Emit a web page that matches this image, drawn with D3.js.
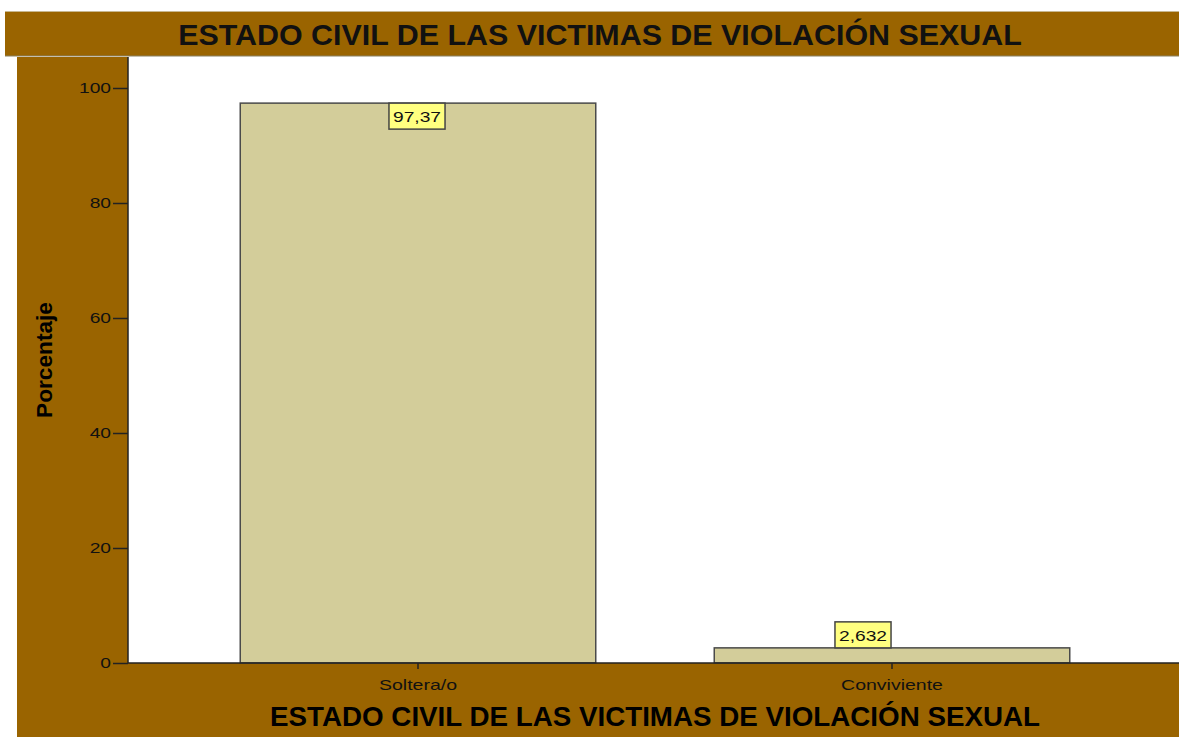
<!DOCTYPE html>
<html><head><meta charset="utf-8">
<script src="https://cdn.jsdelivr.net/npm/d3@7"></script>
<style>body{margin:0;background:#fff}svg{display:block}</style>
</head><body>
<svg id="c" width="1179" height="737"></svg>
<script>
const categories = ["Soltera/o", "Conviviente"];
const values = [97.37, 2.632];
const valueLabels = ["97,37", "2,632"];
const yTicks = [0, 20, 40, 60, 80, 100];
const title = "ESTADO CIVIL DE LAS VICTIMAS DE VIOLACIÓN SEXUAL";
const xTitle = "ESTADO CIVIL DE LAS VICTIMAS DE VIOLACIÓN SEXUAL";
const yTitle = "Porcentaje";

const brown = "#9a6400";
const svg = d3.select("#c");
const W = 1179, H = 737;
const plot = {left: 128, top: 57, right: 1179, bottom: 663};
const FONT = "'Liberation Sans', Arial, sans-serif";

function stretch(sel, k) {
  sel.each(function() {
    const w = this.getComputedTextLength();
    d3.select(this).attr("textLength", w * k).attr("lengthAdjust", "spacingAndGlyphs");
  });
}

// backgrounds
svg.append("rect").attr("x", 5).attr("y", 11).attr("width", W - 5).attr("height", 45).attr("fill", brown);
svg.append("line").attr("x1", 5).attr("x2", W).attr("y1", 56).attr("y2", 56).attr("stroke", "#8a8060").attr("stroke-width", 1);
svg.append("line").attr("x1", 5).attr("x2", W).attr("y1", 11.5).attr("y2", 11.5).attr("stroke", "#c8b890").attr("stroke-width", 1);
svg.append("rect").attr("x", 17).attr("y", 57).attr("width", W - 17).attr("height", H - 57).attr("fill", brown);
svg.append("rect").attr("x", plot.left).attr("y", plot.top).attr("width", plot.right - plot.left).attr("height", plot.bottom - plot.top).attr("fill", "#fff");

const y = d3.scaleLinear().domain([0, 100]).range([plot.bottom, 88]);
const x = d3.scaleBand().domain(categories).range([181, 1129]).paddingInner(0.25).paddingOuter(0.125);

// bars
svg.append("g").selectAll("rect").data(values).join("rect")
  .attr("x", (d, i) => x(categories[i]))
  .attr("y", d => y(d))
  .attr("width", x.bandwidth())
  .attr("height", d => y(0) - y(d))
  .attr("fill", "#d3cd9a")
  .attr("stroke", "#4a4a4a").attr("stroke-width", 1.5);

// axes
const yAxis = svg.append("g").attr("transform", `translate(${plot.left},0)`)
  .call(d3.axisLeft(y).tickValues(yTicks).tickSize(15).tickPadding(2).tickFormat(d3.format("d")));
yAxis.select(".domain").remove();
yAxis.append("line").attr("x1", 0).attr("x2", 0).attr("y1", plot.top).attr("y2", plot.bottom).attr("stroke", "#222").attr("stroke-width", 1.5);
yAxis.selectAll(".tick line").attr("stroke", "#222").attr("stroke-width", 1.5);
yAxis.selectAll(".tick text").attr("fill", "#111").style("font", "15px " + FONT).call(stretch, 1.28);

const xAxis = svg.append("g").attr("transform", `translate(0,${plot.bottom})`)
  .call(d3.axisBottom(x).tickSize(6).tickPadding(10));
xAxis.select(".domain").remove();
xAxis.append("line").attr("x1", plot.left).attr("x2", plot.right).attr("y1", 0).attr("y2", 0).attr("stroke", "#222").attr("stroke-width", 1.5);
xAxis.selectAll(".tick line").attr("stroke", "#222").attr("stroke-width", 1.5);
xAxis.selectAll(".tick text").attr("fill", "#111").style("font", "15px " + FONT).call(stretch, 1.3);

// value labels
const lab = svg.append("g");
values.forEach((v, i) => {
  const cx = x(categories[i]) + x.bandwidth() / 2;
  const boxH = 26;
  const inside = (y(0) - y(v)) > boxH + 4;
  const g = lab.append("g");
  const t = g.append("text").text(valueLabels[i])
    .style("font", "15px " + FONT).attr("fill", "#111")
    .attr("text-anchor", "middle");
  stretch(t, 1.28);
  const tw = +t.attr("textLength");
  const bw = tw + 8;
  const bx = inside ? cx - 1 : cx - 29;
  const by = inside ? y(v) : y(v) - boxH;
  g.insert("rect", "text").attr("x", bx - bw / 2).attr("y", by).attr("width", bw).attr("height", boxH)
    .attr("fill", "#ffff80").attr("stroke", "#444").attr("stroke-width", 1.5);
  t.attr("x", bx).attr("y", by + 19);
});

// titles
function fit(sel, target) {
  const w = sel.node().getComputedTextLength();
  const fs = parseFloat(sel.style("font-size"));
  sel.style("font-size", (fs * target / w) + "px");
}
const tt = svg.append("text").text(title).attr("x", 600).attr("y", 45).attr("text-anchor", "middle")
  .style("font-family", FONT).style("font-weight", "bold").style("font-size", "21px").attr("fill", "#111");
fit(tt, 844);
const xt = svg.append("text").text(xTitle).attr("x", 655).attr("y", 726).attr("text-anchor", "middle")
  .style("font-family", FONT).style("font-weight", "bold").style("font-size", "20px").attr("fill", "#000");
fit(xt, 770);
const yt = svg.append("text").text(yTitle).attr("transform", "translate(52,360) rotate(-90)").attr("text-anchor", "middle")
  .style("font-family", "'Liberation Sans Narrow', 'Liberation Sans', Arial, sans-serif").style("font-weight", "bold").style("font-size", "19px").attr("fill", "#000");
fit(yt, 116);
</script>
</body></html>
